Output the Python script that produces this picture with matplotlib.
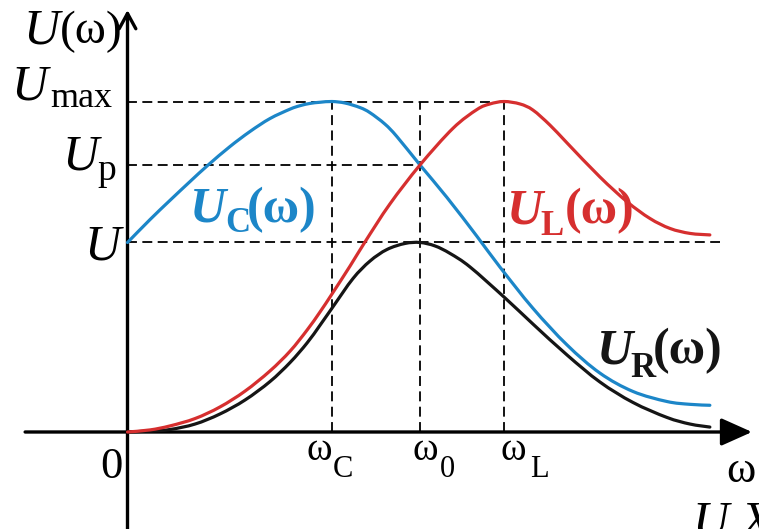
import matplotlib
matplotlib.use("Agg")
import matplotlib.pyplot as plt
import numpy as np
from matplotlib.path import Path
from matplotlib.patches import PathPatch

plt.rcParams["font.family"] = ["Liberation Serif", "DejaVu Serif"]

# Characteristic levels (in units of U) and frequencies (in units of omega_0)
U_MAX = 1.744
U_P = 1.409
U_0 = 1.0
W_C = 0.699
W_0 = 1.0
W_L = 1.287

# U_C(omega) -- capacitor voltage
w_cap = [0.0, 0.077, 0.145, 0.214, 0.275, 0.350, 0.419, 0.487, 0.556, 0.590,
         0.624, 0.658, 0.699, 0.744, 0.795, 0.829, 0.880, 0.921, 1.000, 1.092,
         1.195, 1.273, 1.386, 1.503, 1.615, 1.728, 1.844, 1.923, 1.991]
u_cap = [1.000, 1.121, 1.222, 1.322, 1.408, 1.506, 1.586, 1.654, 1.704, 1.722,
         1.734, 1.740, 1.744, 1.736, 1.712, 1.685, 1.625, 1.559, 1.409, 1.238,
         1.032, 0.871, 0.653, 0.459, 0.311, 0.214, 0.161, 0.146, 0.141]

# U_L(omega) -- inductor voltage
w_ind = [0.0, 0.077, 0.145, 0.231, 0.316, 0.402, 0.487, 0.556, 0.614, 0.658,
         0.699, 0.761, 0.812, 0.897, 1.000, 1.113, 1.195, 1.239, 1.287, 1.342,
         1.386, 1.444, 1.503, 1.615, 1.708, 1.786, 1.855, 1.923, 1.991]
u_ind = [0.000, 0.011, 0.032, 0.071, 0.132, 0.216, 0.322, 0.427, 0.538, 0.633,
         0.728, 0.876, 1.003, 1.203, 1.409, 1.603, 1.702, 1.731, 1.744, 1.731,
         1.699, 1.620, 1.525, 1.346, 1.215, 1.127, 1.074, 1.048, 1.040]

# U_R(omega) -- resistor voltage
w_res = [0.0, 0.077, 0.145, 0.231, 0.316, 0.402, 0.487, 0.556, 0.614, 0.658,
         0.703, 0.771, 0.829, 0.887, 0.949, 1.000, 1.051, 1.103, 1.171, 1.291,
         1.386, 1.503, 1.615, 1.728, 1.844, 1.923, 1.991]
u_res = [0.000, 0.005, 0.013, 0.042, 0.095, 0.169, 0.266, 0.367, 0.470, 0.563,
         0.662, 0.810, 0.902, 0.963, 0.995, 1.000, 0.982, 0.942, 0.871, 0.707,
         0.570, 0.406, 0.264, 0.156, 0.077, 0.042, 0.026]

BLUE = "#1c86c8"
RED = "#d62f2f"
BLACK = "#151515"

W, H = 759, 529
fig = plt.figure(figsize=(W / 100, H / 100), dpi=100)
ax = fig.add_axes([0, 0, 1, 1])
ax.set_xlim(-0.4359, 2.1590)
ax.set_ylim(-0.5119, 2.2797)
ax.axis("off")


def smooth_curve(xs, ys, color, z):
    """Draw a smooth cubic Bezier curve passing through the given points."""
    p = np.column_stack([xs, ys])
    n = len(p)
    verts = [tuple(p[0])]
    codes = [Path.MOVETO]
    for i in range(n - 1):
        p0 = p[i - 1] if i > 0 else p[i]
        p1, p2 = p[i], p[i + 1]
        p3 = p[i + 2] if i + 2 < n else p[i + 1]
        verts += [tuple(p1 + (p2 - p0) / 6), tuple(p2 - (p3 - p1) / 6), tuple(p2)]
        codes += [Path.CURVE4] * 3
    ax.add_patch(PathPatch(Path(verts, codes), facecolor="none", edgecolor=color,
                           lw=2.3, capstyle="round", joinstyle="round", zorder=z))


# Dashed guide lines
dash = dict(color="black", lw=1.3, ls=(0, (5.5, 3.0)), zorder=1)
ax.plot([0, W_L], [U_MAX, U_MAX], **dash)
ax.plot([0, W_0], [U_P, U_P], **dash)
ax.plot([0, 2.025], [U_0, U_0], **dash)
for w in (W_C, W_0, W_L):
    ax.plot([w, w], [0, U_MAX], **dash)

# Coordinate axes
ax.annotate("", xy=(2.135, 0), xytext=(-0.350, 0),
            arrowprops=dict(arrowstyle="-|>,head_length=19,head_width=8.5",
                            mutation_scale=1, lw=2.4, color="black",
                            shrinkA=0, shrinkB=0), zorder=3)
ax.annotate("", xy=(0, 2.227), xytext=(0, -0.52),
            arrowprops=dict(arrowstyle="->,head_length=11,head_width=6",
                            mutation_scale=1, lw=2.4, color="black",
                            shrinkA=0, shrinkB=0), zorder=3)

# Voltage curves
smooth_curve(w_res, u_res, BLACK, 4)
smooth_curve(w_cap, u_cap, BLUE, 5)
smooth_curve(w_ind, u_ind, RED, 6)


def put(parts, color="black"):
    """Place text pieces; positions are pixel offsets from the top-left."""
    for text, x, y, size, weight, style in parts:
        fig.text(x / W, 1 - y / H, text, ha="left", va="baseline",
                 fontsize=size, fontweight=weight, fontstyle=style, color=color)


# Axis labels
put([("U", 23, 43, 36, "normal", "italic"), ("(ω)", 60, 43, 34, "normal", "normal")])
put([("U", 11, 100, 36, "normal", "italic"), ("max", 50, 107, 26, "normal", "normal")])
put([("U", 62, 170, 36, "normal", "italic"), ("p", 97, 180, 27, "normal", "normal")])
put([("U", 84, 260, 36, "normal", "italic")])
put([("0", 100, 478, 32, "normal", "normal")])
put([("ω", 307, 460, 28, "normal", "normal"), ("C", 333, 477, 22, "normal", "normal")])
put([("ω", 412, 460, 28, "normal", "normal"), ("0", 440, 477, 22, "normal", "normal")])
put([("ω", 501, 460, 28, "normal", "normal"), ("L", 530, 477, 22, "normal", "normal")])
put([("ω", 726, 482, 32, "normal", "normal")])
put([("U X", 693, 535, 36, "normal", "italic")])

# Curve labels
put([("U", 190, 222, 36, "bold", "italic"), ("C", 225, 232, 25, "bold", "normal"),
     ("(ω)", 247, 222, 36, "bold", "normal")], BLUE)
put([("U", 507, 223, 36, "bold", "italic"), ("L", 540, 235, 25, "bold", "normal"),
     ("(ω)", 565, 223, 36, "bold", "normal")], RED)
put([("U", 597, 363, 36, "bold", "italic"), ("R", 630, 377, 25, "bold", "normal"),
     ("(ω)", 653, 363, 36, "bold", "normal")], BLACK)

fig.savefig("out.png", dpi=100)
